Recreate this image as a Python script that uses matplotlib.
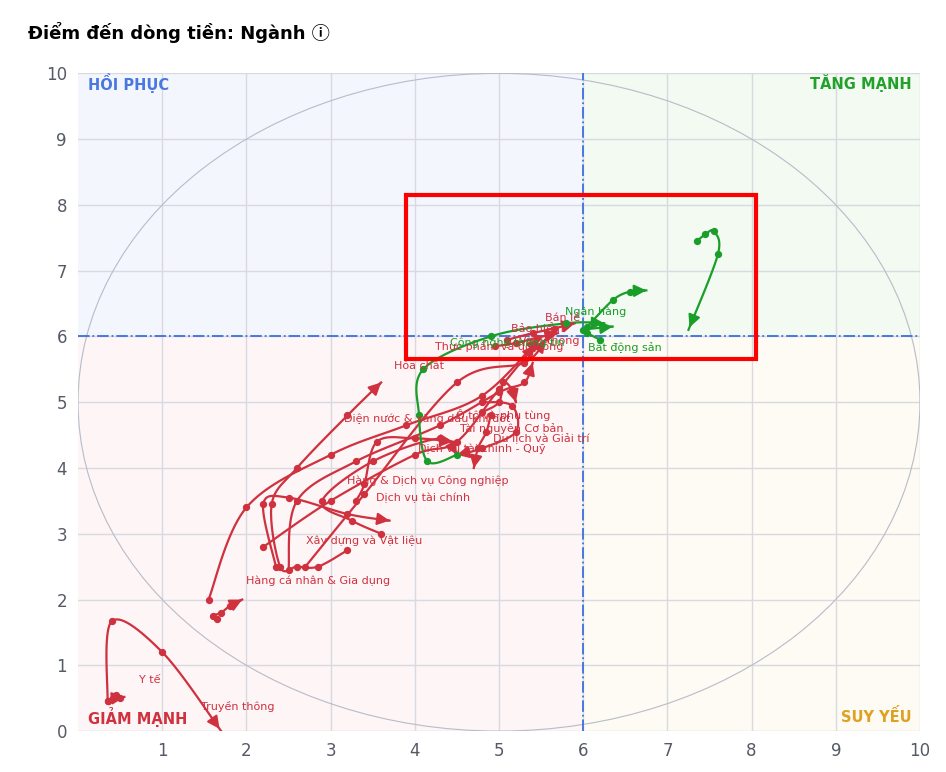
import numpy as np
import matplotlib.pyplot as plt
from matplotlib.patches import Ellipse, Rectangle

RED = '#d0313f'
GREEN = '#1a9e2a'

# trails: (label, colour, points x, points y, label position)
red_trails = {
    'Truyền thông': ([0.35, 0.4, 1.0, 1.7], [0.45, 1.67, 1.2, 0.0], (1.9, 0.38)),
    'Y tế': ([0.45, 0.35, 0.5, 0.42, 0.55], [0.55, 0.45, 0.5, 0.5, 0.52], (0.85, 0.77)),
    'Hàng cá nhân & Gia dụng': ([3.2, 2.85, 2.6, 2.4, 2.3, 2.6, 3.2, 3.6],
                                [2.75, 2.5, 2.5, 2.5, 3.45, 4.0, 4.8, 5.3], (2.85, 2.28)),
    'Xây dựng và Vật liệu': ([3.6, 3.25, 2.9, 3.5, 4.3, 4.5],
                             [3.0, 3.2, 3.5, 4.1, 4.45, 4.2], (3.4, 2.9)),
    'Dịch vụ tài chính': ([2.35, 2.2, 2.5, 3.2, 3.7], [2.5, 3.45, 3.55, 3.3, 3.2], (4.1, 3.55)),
    'Hàng & Dịch vụ Công nghiệp': ([3.3, 3.4, 3.55, 4.0, 4.45], [3.5, 3.75, 4.4, 4.45, 4.4], (4.15, 3.8)),
    'Điện nước & xăng dầu khí đốt': ([2.2, 3.0, 4.0, 4.5, 5.0, 5.45],
                                     [2.8, 3.5, 4.2, 4.4, 5.2, 5.9], (4.15, 4.75)),
    'Ô tô và phụ tùng': ([2.5, 2.6, 3.3, 4.3, 5.0, 5.3, 5.4], [2.45, 3.5, 4.1, 4.65, 5.15, 5.3, 5.6], (5.05, 4.8)),
    'Tài nguyên Cơ bản': ([4.8, 5.0, 5.05, 5.15, 5.2], [4.85, 5.0, 5.3, 5.2, 5.0], (5.15, 4.6)),
    'Du lịch và Giải trí': ([4.8, 5.15, 5.2, 4.8, 4.5], [5.0, 4.95, 4.55, 4.3, 4.2], (5.5, 4.45)),
    'Dịch vụ tài chính - Quỹ': ([4.9, 4.85, 4.75, 4.7], [4.8, 4.55, 4.3, 4.0], (4.8, 4.3)),
    'Hóa chất': ([1.55, 2.0, 3.0, 3.9, 4.8, 5.5], [2.0, 3.4, 4.2, 4.65, 5.1, 6.0], (4.05, 5.55)),
    'Thực phẩm và đồ uống': ([2.7, 3.4, 4.5, 5.3, 5.55], [2.5, 3.6, 5.3, 5.6, 5.95], (5.0, 5.85)),
    'Bảo hiểm': ([4.95, 5.2, 5.45, 5.7], [5.85, 5.9, 5.98, 6.05], (5.45, 6.12)),
    'Bán lẻ': ([5.1, 5.4, 5.65, 5.9], [5.95, 6.05, 6.12, 6.2], (5.75, 6.28)),
    'Viễn thông': ([1.65, 1.6, 1.7, 1.8, 1.95], [1.7, 1.75, 1.8, 1.9, 2.0], (5.6, 5.95)),
}
green_trails = {
    'Ngân hàng': ([6.05, 6.35, 6.55, 6.75], [6.15, 6.55, 6.68, 6.7], (6.15, 6.38)),
    'Bất động sản': ([6.2, 6.05, 6.0, 6.35], [5.95, 6.05, 6.1, 6.15], (6.5, 5.83)),
    'Công nghệ thông tin': ([4.5, 4.15, 4.05, 4.1, 4.9, 5.8, 6.25],
                            [4.2, 4.1, 4.8, 5.5, 6.0, 6.2, 6.2], (5.1, 5.9)),
    '': ([7.35, 7.45, 7.55, 7.6, 7.25], [7.45, 7.55, 7.6, 7.25, 6.1], None),
}


def smooth(x, y, n=20):
    p = np.column_stack([x, y]).astype(float)
    p = np.vstack([p[0], p, p[-1]])
    out = []
    for i in range(1, len(p) - 2):
        p0, p1, p2, p3 = p[i - 1], p[i], p[i + 1], p[i + 2]
        t = np.linspace(0, 1, n)[:, None]
        out.append(0.5 * ((2 * p1) + (-p0 + p2) * t + (2 * p0 - 5 * p1 + 4 * p2 - p3) * t ** 2
                          + (-p0 + 3 * p1 - 3 * p2 + p3) * t ** 3))
    out = np.vstack(out)
    return out[:, 0], out[:, 1]


fig = plt.figure(figsize=(9.46, 7.72), dpi=100)
ax = fig.add_axes([0.0825, 0.053, 0.89, 0.852])
ax.set_xlim(0, 10)
ax.set_ylim(0, 10)

ax.add_patch(Rectangle((0, 6), 6, 4, color='#f3f6fd', zorder=0))
ax.add_patch(Rectangle((6, 6), 4, 4, color='#f2faf2', zorder=0))
ax.add_patch(Rectangle((0, 0), 6, 6, color='#fdf5f6', zorder=0))
ax.add_patch(Rectangle((6, 0), 4, 6, color='#fdfbf3', zorder=0))
ax.add_patch(Ellipse((5, 5), 10, 10, fill=False, ec='#b8bcc8', lw=0.8, zorder=1))
ax.grid(color='#d8dae0', lw=1, zorder=0.5)
ax.set_axisbelow(True)
ax.axvline(6, color='#3b6fe0', ls='-.', lw=1.3, zorder=2)
ax.axhline(6, color='#3b6fe0', ls='-.', lw=1.3, zorder=2)

for trails, col in ((red_trails, RED), (green_trails, GREEN)):
    for name, (xs, ys, lab) in trails.items():
        sx, sy = smooth(xs, ys)
        ax.plot(sx, sy, color=col, lw=1.6, zorder=3)
        ax.scatter(xs[:-1], ys[:-1], s=18, color=col, zorder=4)
        ax.annotate('', xy=(xs[-1], ys[-1]), xytext=(sx[-4], sy[-4]),
                    arrowprops=dict(arrowstyle='-|>', color=col, lw=1.6, mutation_scale=18), zorder=4)
        if lab:
            ax.text(lab[0], lab[1], name, color=col, fontsize=8, ha='center', va='center', zorder=5)

ax.text(0.12, 9.85, 'HỒI PHỤC', color='#4a78e0', fontsize=10.5, fontweight='bold', va='center')
ax.text(9.9, 9.85, 'TĂNG MẠNH', color='#22a02a', fontsize=10.5, fontweight='bold', va='center', ha='right')
ax.text(0.12, 0.22, 'GIẢM MẠNH', color=RED, fontsize=10.5, fontweight='bold', va='center')
ax.text(9.9, 0.22, 'SUY YẾU', color='#e0a020', fontsize=10.5, fontweight='bold', va='center', ha='right')

ax.add_patch(Rectangle((3.9, 5.65), 4.15, 2.5, fill=False, ec='#ff0000', lw=3, zorder=6))

ax.set_xticks(range(1, 11))
ax.set_yticks(range(0, 11))
ax.tick_params(length=0, labelsize=12, colors='#555a66', pad=8)
for s in ax.spines.values():
    s.set_visible(False)

fig.text(0.03, 0.958, 'Điểm đến dòng tiền: Ngành ⓘ', fontsize=13, fontweight='bold', va='center',
         family=['DejaVu Sans', 'Noto Sans CJK SC'])
fig.savefig('out.png', dpi=100)
